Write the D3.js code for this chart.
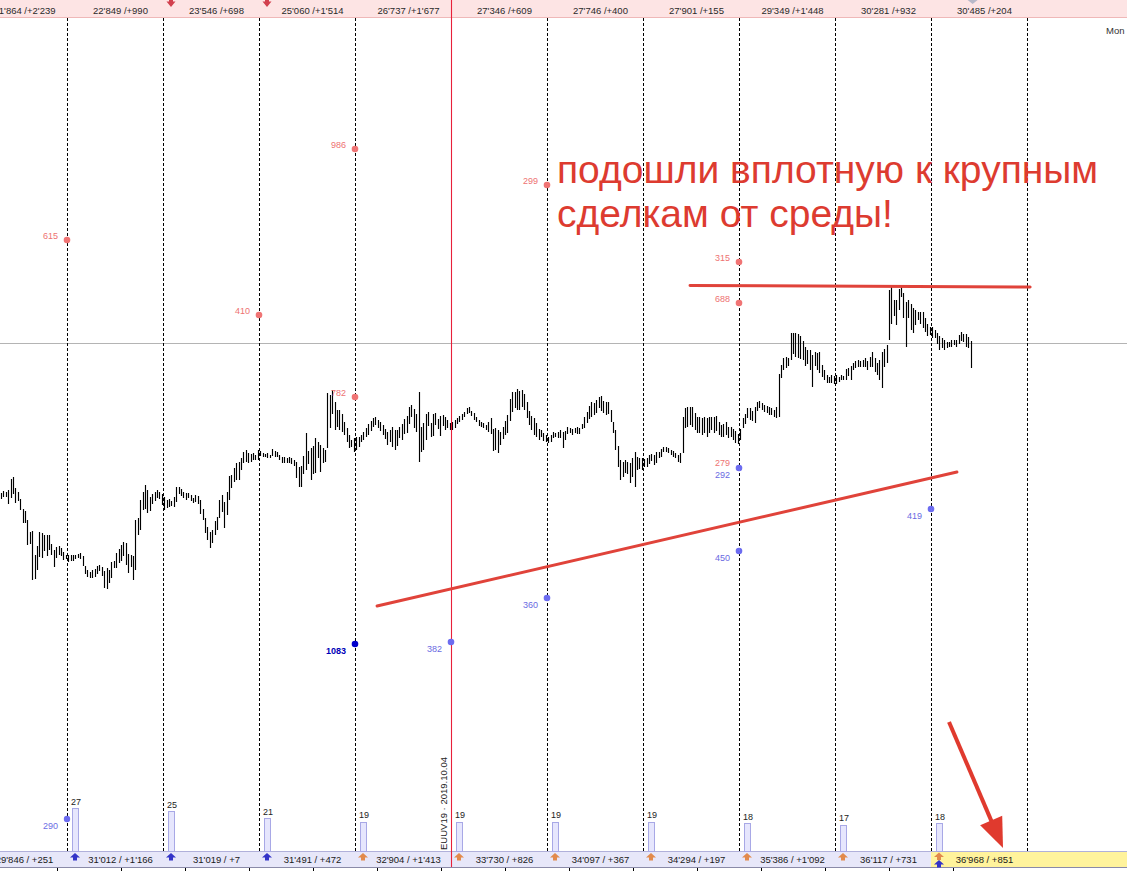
<!DOCTYPE html>
<html><head><meta charset="utf-8">
<script src="https://cdn.jsdelivr.net/npm/d3@7/dist/d3.min.js"></script>
<style>body{margin:0;background:#fff}svg{display:block}text{font-family:"Liberation Sans",Arial,sans-serif}</style>
</head><body><svg id="c" width="1127" height="871"></svg>
<script>
// ---------- DATA ----------
const barsPerDay = 40;          // bars per session (dashed lines = session starts)
const firstBar = 12;            // index of first visible bar (session 0)
// price in ticks
const barHigh = [
 507,509,508,510,521,523,512,508,501,491,489,480,468,469,445,454,468,467,465,465,465,456,450,453,454,452,448,445,
 445,445,445,445,446,447,444,434,430,428,430,431,434,435,433,429,432,430,438,439,447,451,455,458,457,446,445,444,480,482,500,508,515,510,503,506,508,510,508,506,
 503,500,501,499,503,513,513,511,508,507,507,505,502,505,504,500,491,482,473,468,470,479,483,500,505,498,508,524,525,532,537,538,542,548,550,547,546,547,545,550,
 549,547,546,547,545,551,549,548,545,543,543,542,543,542,540,538,533,534,544,567,549,552,554,562,558,555,552,550,607,605,610,598,590,590,586,578,572,565,560,562,
 563,563,565,568,572,576,579,582,583,580,578,575,571,568,570,573,570,570,573,576,581,584,593,595,591,586,608,573,577,586,588,577,586,587,581,584,585,583,580,577,
 578,580,582,584,586,588,592,593,589,587,583,580,578,577,575,578,582,571,572,570,568,573,579,585,601,608,608,611,609,610,606,598,589,584,582,577,571,570,567,565,
 563,565,568,567,568,570,568,569,573,572,571,572,573,572,576,583,588,594,598,597,600,603,604,599,598,598,590,578,570,554,540,538,540,538,537,542,548,543,542,542,
 541,542,545,546,545,548,548,551,553,553,552,550,549,547,545,547,583,592,593,593,593,587,583,583,582,583,582,583,583,583,584,578,575,576,578,573,573,571,569,566,
 571,582,586,592,592,589,593,598,599,597,595,594,593,592,590,593,626,635,642,643,642,667,667,667,666,664,659,653,650,650,645,648,647,648,635,630,625,623,625,624,
 625,623,625,624,631,632,634,637,639,640,639,640,642,639,643,648,642,637,640,648,651,655,710,713,700,700,711,713,707,698,700,696,692,690,688,688,688,682,676,673,
 673,670,667,664,662,660,658,658,660,660,660,665,668,666,666,663,659
];
const barLow = [
 501,503,503,496,502,506,497,499,490,477,477,455,456,420,421,430,443,442,449,444,450,445,433,442,445,444,440,441,
 438,439,439,441,442,441,434,426,423,422,422,423,426,429,424,412,411,417,422,432,432,437,439,444,435,427,433,420,430,465,470,490,491,487,489,496,499,502,501,495,
 490,492,493,494,493,498,506,504,502,500,502,499,497,498,496,486,480,467,460,452,457,465,470,482,488,472,485,500,512,518,520,520,530,537,538,537,538,540,540,540,
 544,543,543,542,542,544,543,543,540,537,537,537,537,536,534,522,513,513,526,530,536,520,526,527,542,528,537,538,552,572,586,570,573,570,568,565,558,552,553,548,
 550,553,558,560,563,565,569,573,575,572,569,565,561,555,558,553,550,554,562,560,566,567,576,583,572,568,538,548,550,560,574,563,564,575,571,564,574,570,572,570,
 570,572,576,578,580,583,586,587,584,580,578,574,573,572,570,568,566,549,550,547,555,561,565,567,579,588,592,590,590,593,590,582,575,570,565,563,560,563,559,558,
 557,558,562,563,562,562,552,560,566,567,565,567,566,566,571,572,577,581,583,585,587,592,589,587,585,586,578,567,550,533,520,523,527,526,517,523,513,530,531,530,
 533,533,536,539,535,537,542,543,548,548,547,545,543,542,538,537,547,572,573,575,573,570,567,567,565,567,563,567,570,567,569,565,563,563,565,562,563,560,557,556,
 560,572,576,582,580,579,577,589,592,590,588,587,585,585,583,582,583,622,630,632,634,640,646,643,642,641,640,634,636,630,613,634,630,627,623,620,617,617,617,616,
 616,618,620,620,620,624,620,630,632,633,633,633,633,630,633,633,628,625,620,612,633,637,660,676,684,675,690,703,682,653,682,670,667,675,680,676,672,668,664,665,
 662,662,656,650,652,650,652,653,653,655,653,656,659,658,653,652,632
];
const topLabels = ["21'864 /+2'239","22'849 /+990","23'546 /+698","25'060 /+1'514","26'737 /+1'677","27'346 /+609","27'746 /+400","27'901 /+155","29'349 /+1'448","30'281 /+932","30'485 /+204"];
const bottomLabels = ["29'846 / +251","31'012 / +1'166","31'019 / +7","31'491 / +472","32'904 / +1'413","33'730 / +826","34'097 / +367","34'294 / +197","35'386 / +1'092","36'117 / +731","36'968 / +851"];
const volumeDays = [1,2,3,4,5,6,7,8,9,10];
const volumes = [27,25,21,19,19,19,19,18,17,18];
const bottomArrowDays = [1,2,3,4,5,6,7,8,9,10];
const bottomArrowKinds = ["buy","buy","buy","sell","sell","sell","sell","sell","sell","sell"];
const topArrowDays = [2,3];
const markers = [
 {day:1, price:760, label:"615", kind:"sell"},
 {day:3, price:685, label:"410", kind:"sell"},
 {day:4, price:851, label:"986", kind:"sell"},
 {day:4, price:603, label:"782", kind:"sell"},
 {day:4, price:356, label:"1083", kind:"big"},
 {day:5, price:358, label:"382", kind:"buy"},
 {day:6, price:815, label:"299", kind:"sell"},
 {day:6, price:402, label:"360", kind:"buy"},
 {day:8, price:738, label:"315", kind:"sell"},
 {day:8, price:697, label:"688", kind:"sell"},
 {day:8, price:532, label:"292", kind:"buy", upper:"279"},
 {day:8, price:449, label:"450", kind:"buy"},
 {day:10, price:491, label:"419", kind:"buy"}
];
const volumeMarker = {day:1, vol:20.5, label:"290"};
const refLevel = 657;
const contractDay = 5;
const contractLabel = "EUUV19 · 2019.10.04";
const trendLines = [
 {i0:299.6, p0:714.5, i1:441.3, p1:713},
 {i0:169.2, p0:394, i1:410.8, p1:528}
];
const pointer = {i0:407.5, p0:278, i1:430, p1:152};
const axisTicks = [35.83,62.5,89.17,115.83,142.5,169.17,195.83,222.5,249.17,275.83,302.5,329.17,355.83,382.5,409.17];
const noteLines = ["подошли вплотную к крупным","сделкам от среды!"];

// ---------- CHART ----------
const W = 1127, H = 871;
const svg = d3.select("#c");
const x = d3.scaleLinear().domain([0, 480]).range([-29, 1123]);
const y = d3.scaleLinear().domain([129, 1000]).range([871, 0]);
const vY = d3.scaleLinear().domain([1.7, 27]).range([851, 808]);
const dayX = d => x(d * barsPerDay);
const nDays = 12;

// top band
svg.append("rect").attr("x",0).attr("y",0).attr("width",W).attr("height",17.5).attr("fill","#fde4e4");
svg.append("line").attr("x1",0).attr("x2",W).attr("y1",17.5).attr("y2",17.5).attr("stroke","#efb8b8");
// bottom band
svg.append("rect").attr("x",0).attr("y",851).attr("width",W).attr("height",16).attr("fill","#e7e7f9");
svg.append("rect").attr("x",dayX(10)).attr("y",851).attr("width",W-dayX(10)).attr("height",16).attr("fill","#fff39c");
svg.append("line").attr("x1",0).attr("x2",W).attr("y1",851.5).attr("y2",851.5).attr("stroke","#b0b0da");
svg.append("line").attr("x1",0).attr("x2",W).attr("y1",867.5).attr("y2",867.5).attr("stroke","#8a8aa8");

// bottom time axis ticks
const axis = d3.axisBottom(x).tickValues(axisTicks).tickSize(4).tickFormat("");
const ag = svg.append("g").attr("transform","translate(0,867.5)").call(axis);
ag.select(".domain").remove();
ag.selectAll(".tick line").attr("stroke","#000").attr("shape-rendering","crispEdges");

// reference level
svg.append("line").attr("x1",0).attr("x2",W).attr("y1",Math.round(y(refLevel))+0.5).attr("y2",Math.round(y(refLevel))+0.5)
  .attr("stroke","#b4b4b4");

// session lines
const days = d3.range(1, nDays);
svg.append("g").selectAll("line").data(days.filter(d => d !== contractDay)).join("line")
  .attr("x1", d => Math.round(dayX(d))+0.5).attr("x2", d => Math.round(dayX(d))+0.5)
  .attr("y1", 18).attr("y2", 851)
  .attr("stroke","#000").attr("stroke-dasharray","3,2").attr("shape-rendering","crispEdges");

// band labels
const midX = d => (dayX(d) + dayX(d+1)) / 2 + 5.5;
svg.append("g").selectAll("text").data(topLabels).join("text")
  .attr("x",(t,i)=>midX(i)).attr("y",13.5).attr("text-anchor","middle")
  .attr("font-size","9.5px").attr("fill","#2a2a2a").text(t=>t);
svg.append("g").selectAll("text").data(bottomLabels).join("text")
  .attr("x",(t,i)=>midX(i)).attr("y",863).attr("text-anchor","middle")
  .attr("font-size","9.5px").attr("fill","#1a1a1a").text(t=>t);

// top red arrows (down)
svg.append("g").selectAll("path").data(topArrowDays).join("path")
  .attr("d", d => { const c = dayX(d)+8; return `M${c-2},-3 L${c+2},-3 L${c+2},1.5 L${c+4.5},1.5 L${c},7 L${c-4.5},1.5 L${c-2},1.5 Z`; })
  .attr("fill","#d2404e");
// small marker at last bar
const lastI = firstBar + barHigh.length - 1;
svg.append("path").attr("d", () => { const c = x(lastI+0.5)+2; return `M${c-5},0 L${c+5},0 L${c},4 Z`; })
  .attr("fill","#b8b8c8");

// bottom arrows (up)
const upArrow = (c, t) => `M${c},${t} L${c+5},${t+4.5} L${c+2},${t+4.5} L${c+2},${t+7.5} L${c-2},${t+7.5} L${c-2},${t+4.5} L${c-5},${t+4.5} Z`;
svg.append("g").selectAll("path").data(bottomArrowDays).join("path")
  .attr("d",(d,i)=> upArrow(dayX(d)+8, d===10 ? 852.5 : 853))
  .attr("fill",(d,i)=> bottomArrowKinds[i]==="buy" ? "#3434c8" : "#e28a4c");
svg.append("path").attr("d", upArrow(dayX(10)+8, 860)).attr("fill","#3434c8");

// volume bars
const vg = svg.append("g");
vg.selectAll("rect").data(volumes).join("rect")
  .attr("x",(v,i)=>Math.round(dayX(volumeDays[i]))+5.5).attr("width",6)
  .attr("y",v=>Math.round(vY(v))+0.5).attr("height",v=>851-Math.round(vY(v)))
  .attr("fill","#e6e6fd").attr("stroke","#a8a8e6");
vg.selectAll("text").data(volumes).join("text")
  .attr("x",(v,i)=>dayX(volumeDays[i])+4).attr("y",v=>vY(v)-3.5)
  .attr("font-size","9px").attr("fill","#222").text(v=>v);
svg.append("circle").attr("cx",dayX(volumeMarker.day)).attr("cy",vY(volumeMarker.vol)).attr("r",3.2).attr("fill","#6c6cf0");
svg.append("text").attr("x",dayX(volumeMarker.day)-9).attr("y",vY(volumeMarker.vol)+10).attr("text-anchor","end")
  .attr("font-size","9px").attr("fill","#6c6ce4").text(volumeMarker.label);

// contract label
svg.append("text").attr("transform",`translate(${dayX(contractDay)-4},850) rotate(-90)`)
  .attr("font-size","9.5px").attr("fill","#222").text(contractLabel);

// price bars
const bars = barHigh.map((h,k)=>({i:firstBar+k, h, l:barLow[k]}));
svg.append("g").selectAll("line").data(bars).join("line")
  .attr("x1",d=>Math.round(x(d.i+0.5))+0.5).attr("x2",d=>Math.round(x(d.i+0.5))+0.5)
  .attr("y1",d=>y(d.h)).attr("y2",d=>Math.max(y(d.l), y(d.h)+1))
  .attr("stroke","#000").attr("stroke-width",1.15);

// contract (red) session line
svg.append("line").attr("x1",Math.round(dayX(contractDay))+0.5).attr("x2",Math.round(dayX(contractDay))+0.5)
  .attr("y1",0).attr("y2",867).attr("stroke","#e8203a").attr("stroke-width",1.1);

// trend lines
svg.append("g").selectAll("line").data(trendLines).join("line")
  .attr("x1",d=>x(d.i0)).attr("y1",d=>y(d.p0)).attr("x2",d=>x(d.i1)).attr("y2",d=>y(d.p1))
  .attr("stroke","#e0433a").attr("stroke-width",3).attr("stroke-linecap","round");

// pointer arrow
(() => {
  const x0=x(pointer.i0), y0=y(pointer.p0), x1=x(pointer.i1), y1=y(pointer.p1);
  const dx=x1-x0, dy=y1-y0, L=Math.hypot(dx,dy), ux=dx/L, uy=dy/L, px=-uy, py=ux;
  const hl=30, hw=12;
  const bx=x1-ux*hl, by=y1-uy*hl;
  svg.append("line").attr("x1",x0).attr("y1",y0).attr("x2",bx+ux*4).attr("y2",by+uy*4)
    .attr("stroke","#e03a2e").attr("stroke-width",4);
  svg.append("path").attr("d",`M${x1},${y1} L${bx+px*hw},${by+py*hw} L${bx-px*hw},${by-py*hw} Z`).attr("fill","#e03a2e");
})();

// markers
const col = {sell:"#f07474", buy:"#6c6cf0", big:"#0000cc"};
const lcol = {sell:"#ee7272", buy:"#6a6ae2", big:"#0000b8"};
const mg = svg.append("g");
markers.forEach(m => {
  const cx = dayX(m.day), cy = y(m.price);
  mg.append("circle").attr("cx",cx).attr("cy",cy).attr("r",3.3).attr("fill",col[m.kind]);
  const below = m.kind !== "sell";
  mg.append("text").attr("x",cx-9).attr("y", below ? cy+9.5 : cy-1.5).attr("text-anchor","end")
    .attr("font-size","9px").attr("font-weight", m.kind==="big" ? "bold" : "normal")
    .attr("fill",lcol[m.kind]).text(m.label);
  if (m.upper) mg.append("text").attr("x",cx-9).attr("y",cy-2).attr("text-anchor","end")
    .attr("font-size","9px").attr("fill",lcol.sell).text(m.upper);
});

// note
svg.append("g").selectAll("text").data(noteLines).join("text")
  .attr("x",557).attr("y",(t,i)=>183+i*44).attr("font-size","39px").attr("fill","#dd3b30").text(t=>t);

// corner label
svg.append("text").attr("x",1106).attr("y",34).attr("font-size","9.5px").attr("fill","#333").text("Mon");
</script></body></html>
